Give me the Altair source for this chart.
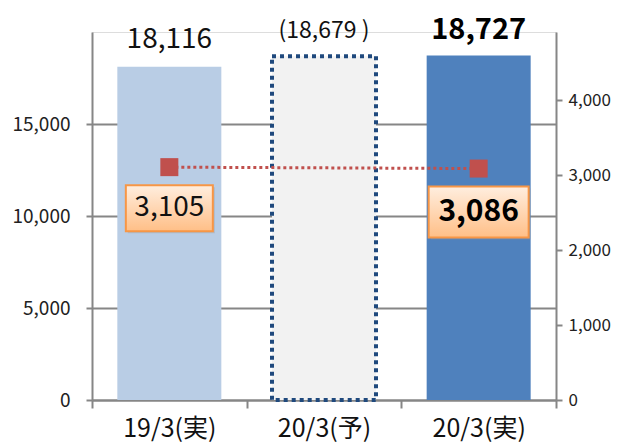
import altair as alt
import pandas as pd

categories = ["19/3(実)", "20/3(予)", "20/3(実)"]
sales = [18116, 18679, 18727]
sales_labels = ["18,116", "(18,679 )", "18,727"]

profit_cats = ["19/3(実)", "20/3(実)"]
profit = [3105, 3086]
profit_labels = ["3,105", "3,086"]

FONT = "Noto Sans CJK JP"
GRAY = "#868686"

df_s = pd.DataFrame({"cat": categories, "sales": sales, "label": sales_labels})
df_p = pd.DataFrame({"cat": profit_cats, "profit": profit, "label": profit_labels})

x_enc = alt.X(
    "cat:N", sort=categories, title=None,
    scale=alt.Scale(paddingInner=0, paddingOuter=0),
    axis=alt.Axis(labelAngle=0, tickBand="extent", labelFontSize=25, labelColor="#111",
                  labelFont=FONT, domainColor=GRAY, domainWidth=2, tickColor=GRAY,
                  tickWidth=2, tickSize=8, labelPadding=8),
)
y_left = alt.Y(
    "sales:Q", title=None,
    scale=alt.Scale(domain=[0, 20000], nice=False),
    axis=alt.Axis(orient="left", values=[0, 5000, 10000, 15000], format=",.0f",
                  grid=True, gridColor=GRAY, gridWidth=2, domainColor=GRAY, domainWidth=2,
                  tickColor=GRAY, tickWidth=2, tickSize=6, labelFontSize=19,
                  labelFont=FONT, labelColor="#222", labelPadding=16),
)
y_right = alt.Y(
    "profit:Q", title=None,
    scale=alt.Scale(domain=[0, 4907], nice=False),
    axis=alt.Axis(orient="right", values=[0, 1000, 2000, 3000, 4000], format=",.0f",
                  grid=False, domainColor=GRAY, domainWidth=2,
                  tickColor=GRAY, tickWidth=2, tickSize=6, labelFontSize=17,
                  labelFont=FONT, labelColor="#222", labelPadding=6),
)

base_s = alt.Chart(df_s).encode(x=x_enc, y=y_left)

bar1 = base_s.mark_bar(width=104, color="#B9CDE5").transform_filter(alt.datum.cat == categories[0])
bar2 = base_s.mark_bar(width=104, fill="#F2F2F2", stroke="#1F497D", strokeWidth=4,
                       strokeDash=[4, 4]).transform_filter(alt.datum.cat == categories[1])
bar3 = base_s.mark_bar(width=104, color="#4F81BD").transform_filter(alt.datum.cat == categories[2])

t1 = base_s.mark_text(dy=-27, fontSize=28, font=FONT, color="#111").encode(text="label:N").transform_filter(alt.datum.cat == categories[0])
t2 = base_s.mark_text(dy=-25, fontSize=23, font=FONT, color="#111").encode(text="label:N").transform_filter(alt.datum.cat == categories[1])
t3 = base_s.mark_text(dy=-25, fontSize=29, fontWeight="bold", font=FONT, color="#000").encode(text="label:N").transform_filter(alt.datum.cat == categories[2])

sales_layer = alt.layer(bar1, bar2, bar3, t1, t2, t3)

base_p = alt.Chart(df_p).encode(x=x_enc, y=y_right)
line = base_p.mark_line(color="#C0504D", strokeDash=[3, 3], strokeWidth=3)
pts = base_p.mark_point(shape="square", filled=True, size=324, color="#C0504D", opacity=1)

grad = alt.LinearGradient(
    gradient="linear",
    stops=[alt.GradientStop(color="#FFEEDF", offset=0), alt.GradientStop(color="#FFBF87", offset=1)],
    x1=0, x2=0, y1=0, y2=1,
)

box1_sh = base_p.mark_bar(width=87, yOffset=20, y2Offset=66, xOffset=2, color="#999999", opacity=0.35).encode(y2="profit:Q").transform_filter(alt.datum.cat == profit_cats[0])
box1 = base_p.mark_bar(width=87, yOffset=18, y2Offset=64, fill=grad, stroke="#F79646", strokeWidth=2).encode(y2="profit:Q").transform_filter(alt.datum.cat == profit_cats[0])
box2_sh = base_p.mark_bar(width=100, yOffset=20, y2Offset=71, xOffset=2, color="#999999", opacity=0.35).encode(y2="profit:Q").transform_filter(alt.datum.cat == profit_cats[1])
box2 = base_p.mark_bar(width=100, yOffset=18, y2Offset=69, fill=grad, stroke="#F79646", strokeWidth=2).encode(y2="profit:Q").transform_filter(alt.datum.cat == profit_cats[1])

pt1 = base_p.mark_text(dy=41, fontSize=28, font=FONT, color="#111").encode(text="label:N").transform_filter(alt.datum.cat == profit_cats[0])
pt2 = base_p.mark_text(dy=43.5, fontSize=30, fontWeight="bold", font=FONT, color="#000").encode(text="label:N").transform_filter(alt.datum.cat == profit_cats[1])

profit_layer = alt.layer(line, pts, box1_sh, box1, box2_sh, box2, pt1, pt2)

chart = (
    alt.layer(sales_layer, profit_layer)
    .resolve_scale(y="independent")
    .properties(width=464, height=368, autosize=alt.AutoSizeParams(type="none"),
                padding={"left": 84, "top": 24, "right": 60, "bottom": 45})
    .configure_view(stroke=None)
    .configure(background="white")
)

chart.save("out.html", embed_options={"renderer": "svg", "actions": False})
